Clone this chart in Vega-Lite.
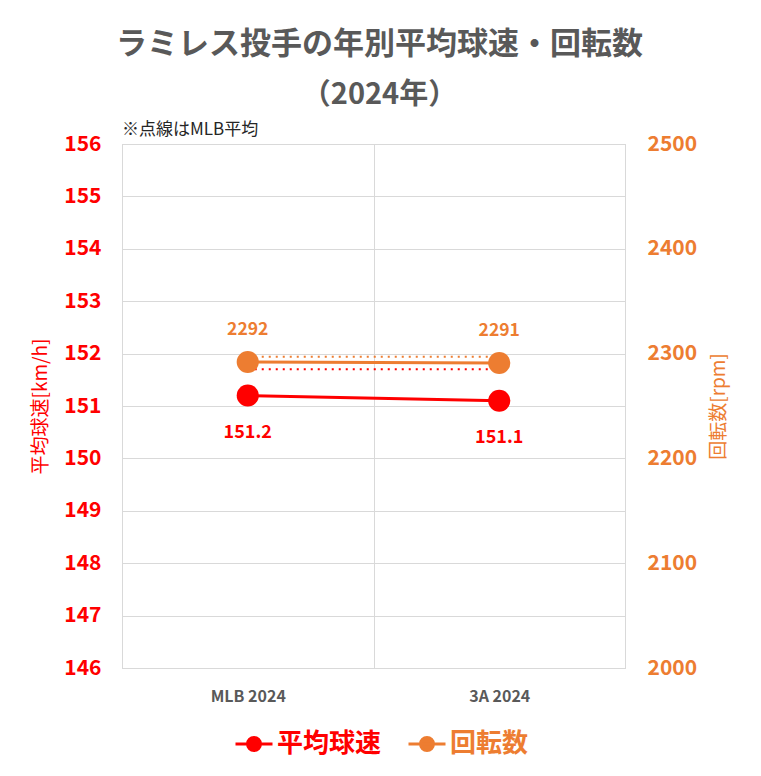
{
  "$schema": "https://vega.github.io/schema/vega-lite/v6.json",
  "width": 503,
  "height": 524,
  "autosize": {"type": "none"},
  "padding": {"left": 122, "top": 144, "right": 136, "bottom": 108},
  "background": "white",
  "config": {
    "font": "Noto Sans CJK JP",
    "view": {"stroke": "#d0d0d0"},
    "axis": {"gridColor": "#d9d9d9", "domain": false, "ticks": false}
  },
  "title": {
    "text": "ラミレス投手の年別平均球速・回転数",
    "subtitle": "（2024年）",
    "anchor": "middle",
    "frame": "group",
    "fontSize": 31,
    "fontWeight": "bold",
    "color": "#595959",
    "subtitleFontSize": 29,
    "subtitleFontWeight": "bold",
    "subtitleColor": "#595959",
    "subtitlePadding": 20,
    "offset": 10,
    "dx": 6,
    "font": "Noto Sans CJK JP",
    "subtitleFont": "Noto Sans CJK JP"
  },
  "data": {
    "values": [
      {"cat": "MLB 2024", "speed": 151.2, "spin": 2292, "mlbSpeed": 151.7, "mlbSpin": 2297},
      {"cat": "3A 2024", "speed": 151.1, "spin": 2291, "mlbSpeed": 151.7, "mlbSpin": 2297}
    ]
  },
  "encoding": {
    "x": {
      "field": "cat",
      "type": "nominal",
      "sort": ["MLB 2024", "3A 2024"],
      "scale": {"paddingInner": 0, "paddingOuter": 0},
      "axis": {
        "title": null,
        "labelAngle": 0,
        "labelFontSize": 16,
        "labelFontWeight": "bold",
        "labelColor": "#595959",
        "labelPadding": 20,
        "grid": true,
        "tickBand": "extent"
      }
    }
  },
  "layer": [
    {
      "encoding": {
        "y": {
          "field": "speed",
          "type": "quantitative",
          "title": "平均球速[km/h]",
          "scale": {"domain": [146, 156], "nice": false, "zero": false},
          "axis": {
            "orient": "left",
            "values": [146, 147, 148, 149, 150, 151, 152, 153, 154, 155, 156],
            "labelFontSize": 21,
            "labelFontWeight": "bold",
            "labelColor": "#FF0000",
            "labelPadding": 21,
            "titleColor": "#FF0000",
            "titleFontSize": 19,
            "titleFontWeight": "normal",
            "titlePadding": 13,
            "grid": true
          }
        }
      },
      "layer": [
        {
          "mark": {"type": "line", "color": "#FF0000", "strokeDash": [2, 5], "strokeWidth": 2},
          "encoding": {"y": {"field": "mlbSpeed", "type": "quantitative", "title": "平均球速[km/h]"}}
        },
        {
          "mark": {"type": "line", "strokeWidth": 3},
          "encoding": {
            "color": {
              "datum": "平均球速",
              "type": "nominal",
              "scale": {"domain": ["平均球速", "回転数"], "range": ["#FF0000", "#ED7D31"]},
              "legend": {
                "orient": "none",
                "legendX": 112,
                "legendY": 580,
                "direction": "horizontal",
                "title": null,
                "symbolType": "M-1,0L1,0M0.35,0A0.35,0.35 0 1,1 -0.35,0A0.35,0.35 0 1,1 0.35,0Z",
                "symbolSize": 1369,
                "symbolStrokeWidth": 3,
                "labelFontSize": 26,
                "labelFontWeight": "bold",
                "labelFont": "Noto Sans CJK JP",
                "columnPadding": 20,
                "labelOffset": 3,
                "encode": {
                  "symbols": {"update": {"fill": {"scale": "color", "field": "value"}, "stroke": {"scale": "color", "field": "value"}, "opacity": {"value": 1}}},
                  "labels": {"update": {"fill": {"scale": "color", "field": "value"}}}
                }
              }
            }
          }
        },
        {
          "mark": {"type": "point", "filled": true, "size": 490, "color": "#FF0000", "opacity": 1}
        },
        {
          "mark": {"type": "text", "dy": 37, "fontSize": 18, "fontWeight": "bold", "color": "#FF0000"},
          "encoding": {"text": {"field": "speed", "type": "quantitative", "format": ".1f"}}
        },
        {
          "data": {"values": [{"cat": "MLB 2024", "top": 156, "note": "※点線はMLB平均"}]},
          "mark": {"type": "text", "align": "left", "baseline": "bottom", "dy": -5, "fontSize": 17, "color": "#262626"},
          "encoding": {
            "x": {"field": "cat", "type": "nominal", "bandPosition": 0},
            "y": {"field": "top", "type": "quantitative", "title": "平均球速[km/h]"},
            "text": {"field": "note", "type": "nominal"}
          }
        }
      ]
    },
    {
      "encoding": {
        "y": {
          "field": "spin",
          "type": "quantitative",
          "title": "回転数[rpm]",
          "scale": {"domain": [2000, 2500], "nice": false, "zero": false},
          "axis": {
            "orient": "right",
            "values": [2000, 2100, 2200, 2300, 2400, 2500],
            "format": "d",
            "labelFontSize": 21,
            "labelFontWeight": "bold",
            "labelColor": "#ED7D31",
            "labelPadding": 22,
            "titleColor": "#ED7D31",
            "titleFontSize": 19,
            "titleFontWeight": "normal",
            "titlePadding": 32,
            "titleAngle": 270,
            "grid": false
          }
        }
      },
      "layer": [
        {
          "mark": {"type": "line", "color": "#ED7D31", "strokeDash": [2, 5], "strokeWidth": 2},
          "encoding": {"y": {"field": "mlbSpin", "type": "quantitative", "title": "回転数[rpm]"}}
        },
        {
          "mark": {"type": "line", "strokeWidth": 3},
          "encoding": {"color": {"datum": "回転数", "type": "nominal"}}
        },
        {
          "mark": {"type": "point", "filled": true, "size": 490, "color": "#ED7D31", "opacity": 1}
        },
        {
          "mark": {"type": "text", "dy": -32, "fontSize": 17.5, "fontWeight": "bold", "color": "#ED7D31"},
          "encoding": {"text": {"field": "spin", "type": "quantitative", "format": "d"}}
        }
      ]
    }
  ],
  "resolve": {"scale": {"y": "independent"}}
}
